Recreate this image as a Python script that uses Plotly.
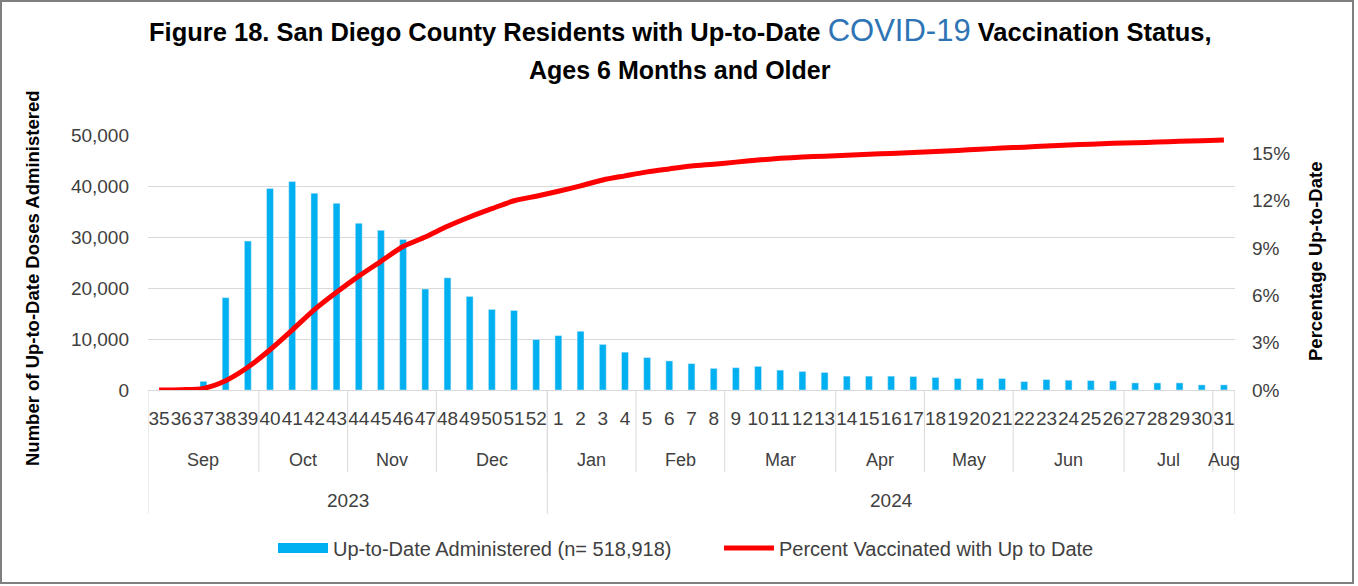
import plotly.graph_objects as go

# ---------------- data ----------------
weeks = [35, 36, 37, 38, 39, 40, 41, 42, 43, 44, 45, 46, 47, 48, 49, 50, 51, 52,
         1, 2, 3, 4, 5, 6, 7, 8, 9, 10, 11, 12, 13, 14, 15, 16, 17, 18, 19, 20,
         21, 22, 23, 24, 25, 26, 27, 28, 29, 30, 31]
doses = [0, 0, 1700, 18100, 29200, 39500, 40900, 38600, 36600, 32700, 31300, 29500,
         19800, 22000, 18350, 15800, 15600, 9900,
         10660, 11520, 8940, 7420, 6360, 5700, 5170, 4240, 4370, 4640, 3900, 3640,
         3440, 2720, 2720, 2720, 2650, 2450, 2250, 2250, 2250, 1650, 2050, 1920,
         1850, 1780, 1390, 1390, 1390, 1000, 1000]
pct_uptodate = [0.0, 0.02, 0.1, 0.59, 1.44, 2.55, 3.8, 5.1, 6.2, 7.22, 8.16, 9.1,
                9.7, 10.38, 10.97, 11.5, 12.0, 12.29,
                12.6, 12.94, 13.32, 13.58, 13.83, 14.02, 14.2, 14.32, 14.45, 14.58,
                14.69, 14.77, 14.83, 14.89, 14.95, 15.0, 15.06, 15.13, 15.19, 15.27,
                15.34, 15.4, 15.47, 15.53, 15.59, 15.64, 15.68, 15.72, 15.77, 15.8, 15.85]
month_labels = ["Sep", "Oct", "Nov", "Dec", "Jan", "Feb", "Mar", "Apr", "May", "Jun", "Jul", "Aug"]
month_counts = [5, 4, 4, 5, 4, 4, 5, 4, 4, 5, 4, 1]
year_labels = ["2023", "2024"]
year_counts = [18, 31]
y_ticks = [0, 10000, 20000, 30000, 40000, 50000]
pct_ticks = [0, 3, 6, 9, 12, 15]

bar_name = "Up-to-Date Administered (n= 518,918)"
line_name = "Percent Vaccinated with Up to Date"

# ---------------- style ----------------
W, H = 1358, 586
ML, MR, MT, MB = 148, 123, 135, 196
PW, PH = W - ML - MR, H - MT - MB
FONT = "Liberation Sans, Arial, sans-serif"
TXT = "#404040"
GRID = "#D9D9D9"
BLUE = "#00B0F0"
RED = "#FF0000"


def px_x(px):
    return (px - ML) / PW


def px_y(py):
    return (H - MB - py) / PH


x_idx = list(range(len(weeks)))

fig = go.Figure()
fig.add_trace(go.Bar(x=x_idx, y=doses, marker_color=BLUE, width=0.31,
                     name=bar_name, showlegend=False))
# legend entry drawn as a wide blue block like the original
fig.add_trace(go.Scatter(x=[None], y=[None], mode="lines",
                         line=dict(color=BLUE, width=12), name=bar_name))
fig.add_trace(go.Scatter(x=x_idx, y=[p / 100 for p in pct_uptodate], mode="lines",
                         line=dict(color=RED, width=5, shape="spline", smoothing=0.8),
                         name=line_name, yaxis="y2"))

shapes = []
annotations = []

# month labels and separators
start = 0
for lab, cnt in zip(month_labels, month_counts):
    center = start + (cnt - 1) / 2
    annotations.append(dict(x=center, y=px_y(460), xref="x", yref="paper", text=lab,
                            xanchor="center", yanchor="middle", showarrow=False,
                            font=dict(size=18, color=TXT, family=FONT)))
    start += cnt
    shapes.append(dict(type="line", xref="x", yref="paper", x0=start - 0.5, x1=start - 0.5,
                       y0=0, y1=px_y(472), line=dict(color=GRID, width=1)))

# year labels and separators
start = 0
shapes.append(dict(type="line", xref="x", yref="paper", x0=-0.5, x1=-0.5,
                   y0=0, y1=px_y(514), line=dict(color=GRID, width=1)))
for lab, cnt in zip(year_labels, year_counts):
    center = start + (cnt - 1) / 2
    annotations.append(dict(x=center, y=px_y(500), xref="x", yref="paper", text=lab,
                            xanchor="center", yanchor="middle", showarrow=False,
                            font=dict(size=19, color=TXT, family=FONT)))
    start += cnt
    shapes.append(dict(type="line", xref="x", yref="paper", x0=start - 0.5, x1=start - 0.5,
                       y0=0, y1=px_y(514), line=dict(color=GRID, width=1)))

# outer chart border
shapes.append(dict(type="rect", xref="paper", yref="paper",
                   x0=px_x(1), x1=px_x(1353), y0=px_y(583), y1=px_y(1),
                   line=dict(color="#7F7F7F", width=2), layer="below"))

# title
annotations.append(dict(
    x=px_x(680), y=px_y(31), xref="paper", yref="paper", showarrow=False,
    xanchor="center", yanchor="middle",
    text=("<b>Figure 18. San Diego County Residents with Up-to-Date </b>"
          "<span style='color:#2E74B5;font-size:31px'>COVID-19</span>"
          "<b> Vaccination Status,</b>"),
    font=dict(size=25.5, color="#000000", family=FONT)))
annotations.append(dict(
    x=px_x(680), y=px_y(70), xref="paper", yref="paper", showarrow=False,
    xanchor="center", yanchor="middle",
    text="<b>Ages 6 Months and Older</b>",
    font=dict(size=25, color="#000000", family=FONT)))

# axis titles
annotations.append(dict(
    x=px_x(32), y=px_y(278), xref="paper", yref="paper", showarrow=False, textangle=-90,
    xanchor="center", yanchor="middle",
    text="<b>Number of Up-to-Date Doses Administered</b>",
    font=dict(size=18.5, color="#000000", family=FONT)))
annotations.append(dict(
    x=px_x(1315), y=px_y(262), xref="paper", yref="paper", showarrow=False, textangle=-90,
    xanchor="center", yanchor="middle",
    text="<b>Percentage Up-to-Date</b>",
    font=dict(size=18.5, color="#000000", family=FONT)))

fig.update_layout(
    width=W, height=H,
    margin=dict(l=ML, r=MR, t=MT, b=MB, autoexpand=False),
    paper_bgcolor="white", plot_bgcolor="white",
    font=dict(family=FONT, size=18, color=TXT),
    bargap=0.7,
    shapes=shapes,
    annotations=annotations,
    xaxis=dict(range=[-0.5, len(weeks) - 0.5], tickmode="array", tickvals=x_idx,
               ticktext=[str(w) for w in weeks], tickangle=0, showgrid=False,
               zeroline=False, showline=True, linecolor=GRID, linewidth=1,
               ticks="", ticklabelstandoff=11, tickfont=dict(size=19, color=TXT),
               automargin=False, fixedrange=True),
    yaxis=dict(range=[0, 50000], tickmode="array", tickvals=y_ticks, tickformat=",",
               showgrid=True, gridcolor=GRID, gridwidth=1, zeroline=False, showline=False,
               ticks="", ticklabelstandoff=18, tickfont=dict(size=19, color=TXT),
               automargin=False),
    yaxis2=dict(range=[0, 0.1617], overlaying="y", side="right", tickmode="array",
                tickvals=[p / 100 for p in pct_ticks], tickformat=".0%",
                showgrid=False, zeroline=False, showline=False, ticks="",
                ticklabelstandoff=16, tickfont=dict(size=19, color=TXT), automargin=False),
    legend=dict(orientation="h", x=px_x(273), y=px_y(548), xanchor="left", yanchor="middle",
                itemwidth=50, entrywidth=381, font=dict(size=20, color=TXT, family=FONT),
                bgcolor="rgba(0,0,0,0)", traceorder="normal"),
    showlegend=True,
)

fig.write_html("out.html", config={"displayModeBar": False},
               post_script="document.body.style.margin='0';")
